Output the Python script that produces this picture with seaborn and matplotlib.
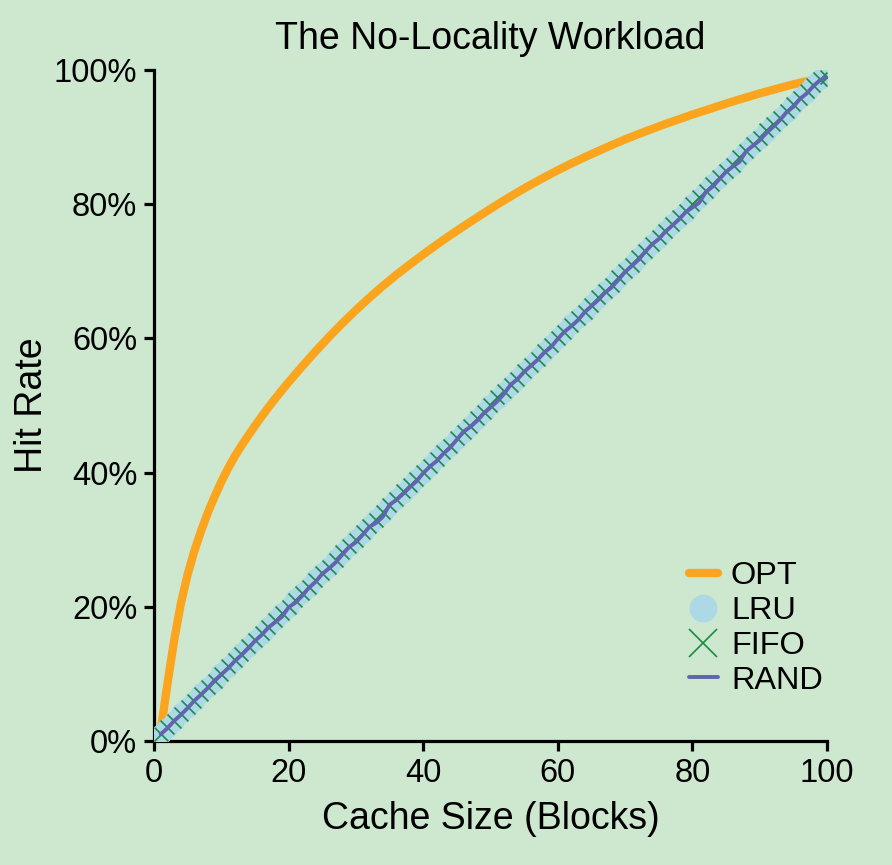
import matplotlib
matplotlib.use('Agg')
import matplotlib.pyplot as plt
from matplotlib.lines import Line2D
from matplotlib.ticker import PercentFormatter
import numpy as np
import pandas as pd
import seaborn as sns

# cache sizes (blocks)
cache_sizes = list(range(1, 101))

# OPT read at a set of cache sizes
opt_sizes = [1, 2, 3, 4, 5, 6, 7, 8, 9, 10, 11, 12, 13, 14, 15, 16, 17, 18, 19, 20,
             22, 24, 26, 28, 30, 32, 34, 36, 38, 40, 42, 44, 46, 48, 50,
             52, 54, 56, 58, 60, 62, 64, 66, 68, 70, 72, 74, 76, 78, 80,
             82, 84, 86, 88, 90, 92, 94, 96, 98, 100]
opt_hits = [1.5, 8.5, 15.0, 20.5, 24.8, 28.3, 31.3, 34.0, 36.4, 38.6, 40.6, 42.4,
            44.0, 45.5, 46.95, 48.35, 49.7, 51.0, 52.25, 53.45,
            55.8, 58.05, 60.2, 62.25, 64.2, 66.05, 67.8, 69.45, 71.0, 72.5, 73.95,
            75.35, 76.7, 78.0, 79.3, 80.55, 81.75, 82.9, 84.0, 85.05, 86.05, 87.0,
            87.9, 88.8, 89.65, 90.45, 91.2, 91.95, 92.65, 93.35, 94.0, 94.65, 95.3,
            95.9, 96.5, 97.05, 97.6, 98.1, 98.55, 99.0]

lru_hits = [1.0, 2.0, 3.0, 4.1, 5.0, 6.0, 7.1, 8.0, 9.0, 10.1,
            11.0, 12.0, 13.1, 14.0, 15.1, 16.0, 17.0, 18.1, 19.0, 20.0,
            21.1, 22.0, 23.0, 24.1, 25.0, 26.0, 27.1, 28.0, 29.0, 30.1,
            31.0, 32.0, 33.1, 34.0, 35.0, 36.1, 37.0, 38.0, 39.1, 40.0,
            41.0, 42.1, 43.0, 44.0, 45.0, 46.1, 47.0, 48.0, 49.1, 50.0,
            51.0, 52.0, 53.1, 54.0, 55.0, 56.0, 57.1, 58.0, 59.0, 60.0,
            61.0, 62.1, 63.0, 64.0, 65.0, 66.0, 67.1, 68.0, 69.0, 70.0,
            70.9, 72.0, 73.0, 74.0, 74.9, 76.0, 77.0, 78.0, 78.9, 80.0,
            80.9, 81.9, 83.0, 83.9, 84.9, 85.9, 86.9, 87.9, 88.9, 89.9,
            90.8, 91.8, 92.8, 93.8, 94.8, 95.8, 96.7, 97.7, 98.6, 99.0]

fifo_hits = [1.0, 2.1, 3.0, 4.0, 5.1, 6.0, 7.0, 8.1, 9.0, 10.0,
             11.1, 12.0, 13.0, 14.1, 15.0, 16.1, 17.0, 18.0, 19.1, 20.0,
             21.0, 22.1, 23.0, 24.0, 25.1, 26.0, 27.0, 28.1, 29.0, 30.0,
             31.1, 32.0, 33.0, 34.1, 35.2, 36.0, 37.2, 38.1, 39.0, 40.1,
             41.0, 42.0, 43.1, 44.0, 45.1, 46.0, 47.0, 48.1, 49.0, 50.1,
             51.2, 52.1, 53.0, 54.0, 55.1, 56.0, 57.0, 58.1, 59.0, 60.1,
             61.0, 62.0, 63.1, 64.0, 65.0, 66.1, 67.0, 68.0, 69.1, 70.0,
             71.0, 72.1, 73.0, 74.0, 75.1, 76.0, 77.0, 78.1, 79.0, 80.0,
             81.0, 82.0, 83.0, 84.0, 85.0, 85.9, 87.0, 87.9, 89.0, 89.9,
             91.0, 91.9, 92.9, 93.9, 94.9, 95.8, 96.8, 97.8, 98.6, 99.0]

rand_hits = [1.0, 1.9, 3.0, 3.9, 4.9, 6.0, 6.9, 7.9, 9.0, 9.9,
             10.8, 11.9, 12.8, 13.8, 14.9, 15.8, 16.9, 17.7, 18.5, 19.9,
             20.6, 21.6, 22.8, 23.7, 24.9, 25.7, 26.6, 27.8, 28.9, 29.6,
             30.7, 31.9, 32.5, 33.4, 35.2, 35.9, 36.8, 37.8, 38.7, 39.9,
             40.9, 41.7, 42.8, 43.7, 44.9, 46.1, 46.8, 47.7, 48.8, 49.7,
             50.6, 51.7, 53.1, 53.9, 55.0, 55.9, 56.8, 57.9, 58.7, 59.9,
             61.0, 61.8, 62.7, 63.9, 64.8, 65.7, 66.8, 67.6, 68.7, 69.9,
             70.8, 71.7, 72.9, 74.0, 74.8, 75.9, 76.8, 77.7, 78.8, 79.5,
             80.2, 81.8, 82.6, 83.7, 84.8, 85.6, 86.3, 87.9, 88.7, 89.5,
             90.6, 91.5, 92.5, 93.7, 94.5, 95.7, 96.5, 97.6, 98.5, 99.0]

bg = '#cde8cf'
c_opt = '#fba51e'
c_lru = '#add8e6'
c_fifo = '#1c8a45'
c_rand = '#6065ad'

sns.set_style('ticks', {'axes.edgecolor': 'black', 'xtick.color': 'black',
                        'ytick.color': 'black', 'text.color': 'black',
                        'axes.labelcolor': 'black'})
plt.rcParams['font.family'] = ['Liberation Sans', 'DejaVu Sans']

fig = plt.figure(figsize=(8.92, 8.65), dpi=100, facecolor=bg)
ax = fig.add_axes([0.1726, 0.1434, 0.7544, 0.7757])
ax.set_facecolor(bg)

sns.lineplot(x=opt_sizes, y=opt_hits, ax=ax, color=c_opt, linewidth=6)
sns.scatterplot(x=cache_sizes, y=lru_hits, ax=ax, color=c_lru, marker='o',
                s=225, linewidth=0, zorder=3)
sns.scatterplot(x=cache_sizes, y=fifo_hits, ax=ax, color=c_fifo, marker='x',
                s=100, linewidth=1.2, zorder=4)
sns.lineplot(x=cache_sizes, y=rand_hits, ax=ax, color=c_rand, linewidth=2.8,
             zorder=5)

ax.set_xlim(0, 100)
ax.set_ylim(0, 100)
ax.set_xticks([0, 20, 40, 60, 80, 100])
ax.set_yticks([0, 20, 40, 60, 80, 100])
ax.yaxis.set_major_formatter(PercentFormatter(decimals=0))
sns.despine(ax=ax)
for s in ['left', 'bottom']:
    ax.spines[s].set_linewidth(2.3)
ax.tick_params(width=2.3, length=7, labelsize=23.5, pad=5)

ax.set_title('The No-Locality Workload', fontsize=27, pad=15)
ax.set_xlabel('Cache Size (Blocks)', fontsize=27, labelpad=9)
ax.set_ylabel('Hit Rate', fontsize=27, labelpad=3)

handles = [
    Line2D([], [], color=c_opt, linewidth=6),
    Line2D([], [], color=c_lru, linestyle='none', marker='o', markersize=20, markeredgewidth=0),
    Line2D([], [], color=c_fifo, linestyle='none', marker='x', markersize=20, markeredgewidth=1.2),
    Line2D([], [], color=c_rand, linewidth=2.8),
]
ax.legend(handles, ['OPT', 'LRU', 'FIFO', 'RAND'], loc='lower right',
          frameon=False, fontsize=23.4, handlelength=0.9, handletextpad=0.4,
          labelspacing=0.15, borderaxespad=0.0, bbox_to_anchor=(1.013, 0.048))

fig.savefig('out.png', dpi=100, facecolor=bg)
